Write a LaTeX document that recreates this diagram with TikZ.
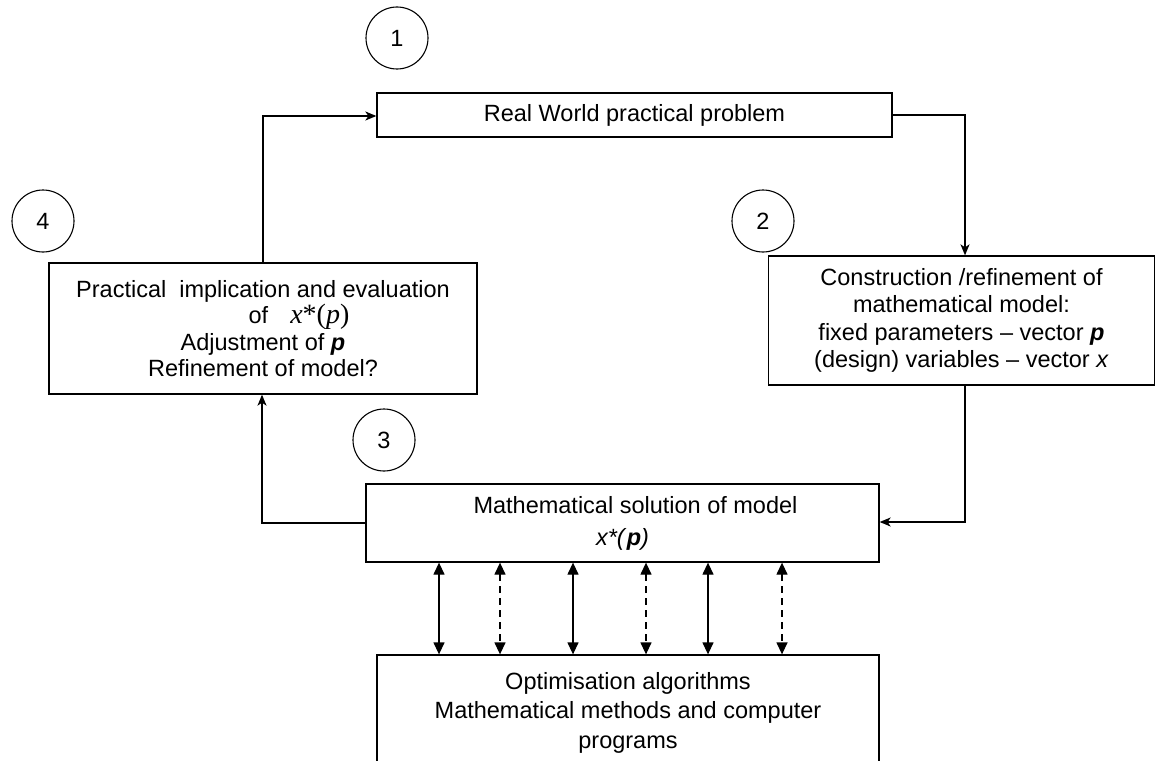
\documentclass[tikz,border=0pt]{standalone}
\usepackage{fontspec}
\setmainfont{Liberation Sans}
\newfontfamily\timesfont{Liberation Serif}
\usetikzlibrary{arrows.meta}

\tikzset{
  box/.style={draw, line width=1.3pt, align=center, inner sep=0pt, font=\fontsize{23.5}{26.5}\selectfont},
  num/.style={draw, circle, line width=1.1pt, minimum size=62pt, inner sep=0pt, font=\fontsize{23.5}{25}\selectfont},
  flow/.style={line width=1.3pt, -{Stealth[length=11pt,width=9pt,inset=3pt]}},
  link/.style={line width=1.3pt, {Triangle[length=12pt,width=11pt]}-{Triangle[length=12pt,width=11pt]}},
  weaklink/.style={link, dash pattern=on 7pt off 5pt}
}

% x*(p) set in a serif face, as in the evaluation box
\newcommand{\xstarp}{{\fontsize{28}{26.5}\selectfont\timesfont\itshape x\upshape*(\itshape p\upshape)}}

\begin{document}
\begin{tikzpicture}[x=1pt, y=-1pt]
\useasboundingbox (0,0) rectangle (1156,760);

% main boxes
\node[box, minimum width=515pt, minimum height=44pt] (real) at (634.5,115) {Real World practical problem};
\node[box, minimum width=386pt, minimum height=129pt, font=\fontsize{23.5}{27.5}\selectfont] (model) at (961.5,320.5)
  {Construction /refinement of\\mathematical model:\\fixed parameters -- vector \textbf{\textit{p}}\\(design) variables -- vector \textit{x}};
\node[box, minimum width=513pt, minimum height=78pt, font=\fontsize{23.5}{32}\selectfont] (sol) at (622.5,523)
  {\hspace*{26pt}Mathematical solution of model\\\textit{x*(}\textbf{\textit{p}}\textit{)}};
\node[box, minimum width=428pt, minimum height=131pt] (eval) at (263,328.5)
  {Practical\ \ implication and evaluation\\\hspace*{72pt}of\hspace{22pt}\xstarp\\Adjustment of \textbf{\textit{p}}\\Refinement of model?};
\node[box, minimum width=502pt, minimum height=115pt, font=\fontsize{23.5}{29.5}\selectfont] (algo) at (628,712.5)
  {Optimisation algorithms\\Mathematical methods and computer\\programs};

% step numbers
\node[num] (n1) at (397,38) {1};
\node[num] (n2) at (763,221) {2};
\node[num] (n3) at (384,440) {3};
\node[num] (n4) at (43,221) {4};

% cycle connectors
\coordinate (c1) at (263,116);
\draw[flow] (eval.north) -- (c1) -- (real.west |- c1);
\coordinate (c2) at (965,115);
\draw[flow] (real.east) -- (c2) -- (c2 |- model.north);
\coordinate (c3) at (965,522);
\draw[flow] (c3 |- model.south) -- (c3) -- (sol.east |- c3);
\coordinate (c4) at (262,523);
\draw[flow] (sol.west |- c4) -- (c4) -- (c4 |- eval.south);

% links between solution and algorithms
\foreach \x in {439,573,708}
  \draw[link] (\x,0 |- sol.south) -- (\x,0 |- algo.north);
\foreach \x in {500,646,782}
  \draw[weaklink] (\x,0 |- sol.south) -- (\x,0 |- algo.north);
\end{tikzpicture}
\end{document}
